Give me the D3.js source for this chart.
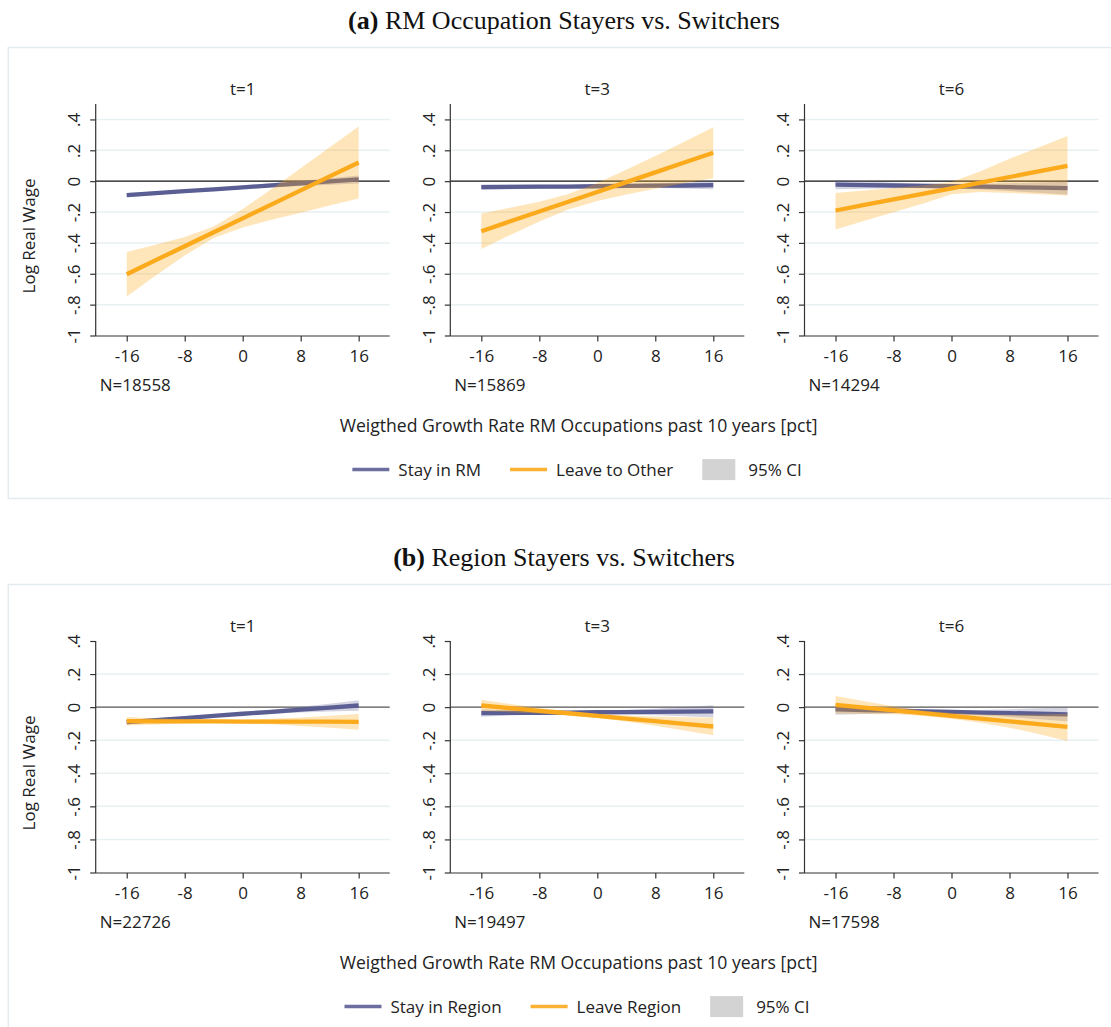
<!DOCTYPE html>
<html>
<head>
<meta charset="utf-8">
<script src="https://cdn.jsdelivr.net/npm/d3@7"></script>
<style>
  body { margin: 0; background: #fff; }
  svg { display: block; }
</style>
</head>
<body>
<div id="chart"></div>
<script>
var width = 1111
var height = 1027

// shared axes
var xGrid = [-16, -12, -8, -4, 0, 4, 8, 12, 16]
var xTicks = [-16, -8, 0, 8, 16]
var yTicks = [-1, -0.8, -0.6, -0.4, -0.2, 0, 0.2, 0.4]
var yTickLabels = ['-1', '-.8', '-.6', '-.4', '-.2', '0', '.2', '.4']
var panelTitles = ['t=1', 't=3', 't=6']

// (a) RM occupation stayers vs switchers
var nTop = [18558, 15869, 14294]
var legendTop = ['Stay in RM', 'Leave to Other', '95% CI']

var aStayFit1 = [-0.091, -0.078, -0.065, -0.053, -0.040, -0.027, -0.014, -0.002, 0.011]
var aStayLo1  = [-0.105, -0.089, -0.074, -0.062, -0.050, -0.040, -0.031, -0.023, -0.015]
var aStayHi1  = [-0.077, -0.067, -0.056, -0.044, -0.030, -0.014, 0.003, 0.019, 0.037]
var aLeaveFit1 = [-0.603, -0.512, -0.422, -0.331, -0.241, -0.150, -0.060, 0.031, 0.121]
var aLeaveLo1  = [-0.747, -0.612, -0.482, -0.369, -0.301, -0.250, -0.204, -0.158, -0.113]
var aLeaveHi1  = [-0.459, -0.412, -0.362, -0.293, -0.181, -0.050, 0.084, 0.220, 0.355]

var aStayFit3 = [-0.039, -0.037, -0.036, -0.035, -0.033, -0.031, -0.029, -0.028, -0.026]
var aStayLo3  = [-0.057, -0.052, -0.049, -0.047, -0.045, -0.044, -0.045, -0.048, -0.052]
var aStayHi3  = [-0.021, -0.022, -0.023, -0.023, -0.021, -0.018, -0.013, -0.008, 0.000]
var aLeaveFit3 = [-0.324, -0.260, -0.197, -0.133, -0.070, -0.006, 0.057, 0.121, 0.184]
var aLeaveLo3  = [-0.439, -0.348, -0.261, -0.183, -0.128, -0.086, -0.049, -0.014, 0.019]
var aLeaveHi3  = [-0.209, -0.172, -0.133, -0.083, -0.012, 0.074, 0.163, 0.256, 0.349]

var aStayFit6 = [-0.022, -0.025, -0.028, -0.030, -0.033, -0.036, -0.039, -0.042, -0.045]
var aStayLo6  = [-0.052, -0.049, -0.046, -0.045, -0.048, -0.054, -0.064, -0.075, -0.088]
var aStayHi6  = [0.008, -0.001, -0.010, -0.015, -0.018, -0.018, -0.014, -0.009, -0.002]
var aLeaveFit6 = [-0.190, -0.154, -0.118, -0.082, -0.046, -0.009, 0.027, 0.063, 0.099]
var aLeaveLo6  = [-0.313, -0.257, -0.202, -0.146, -0.085, -0.070, -0.076, -0.084, -0.093]
var aLeaveHi6  = [-0.076, -0.060, -0.044, -0.028, -0.005, 0.065, 0.145, 0.218, 0.292]

// (b) region stayers vs switchers
var nBottom = [22726, 19497, 17598]
var legendBottom = ['Stay in Region', 'Leave Region', '95% CI']

var bStayFit1 = [-0.091, -0.078, -0.066, -0.053, -0.040, -0.028, -0.015, -0.003, 0.010]
var bStayLo1  = [-0.105, -0.089, -0.075, -0.061, -0.049, -0.040, -0.032, -0.027, -0.022]
var bStayHi1  = [-0.077, -0.067, -0.057, -0.045, -0.031, -0.016, 0.002, 0.021, 0.042]
var bLeaveFit1 = [-0.085, -0.086, -0.086, -0.086, -0.087, -0.087, -0.088, -0.088, -0.089]
var bLeaveLo1  = [-0.111, -0.105, -0.099, -0.096, -0.098, -0.104, -0.114, -0.124, -0.136]
var bLeaveHi1  = [-0.059, -0.067, -0.073, -0.076, -0.076, -0.070, -0.062, -0.052, -0.042]

var bStayFit3 = [-0.036, -0.035, -0.034, -0.033, -0.031, -0.030, -0.029, -0.027, -0.026]
var bStayLo3  = [-0.058, -0.051, -0.045, -0.042, -0.041, -0.044, -0.049, -0.055, -0.063]
var bStayHi3  = [-0.014, -0.019, -0.023, -0.024, -0.021, -0.016, -0.009, 0.001, 0.011]
var bLeaveFit3 = [0.010, -0.006, -0.022, -0.037, -0.053, -0.069, -0.085, -0.101, -0.117]
var bLeaveLo3  = [-0.024, -0.031, -0.039, -0.049, -0.065, -0.087, -0.113, -0.141, -0.170]
var bLeaveHi3  = [0.044, 0.019, -0.005, -0.025, -0.041, -0.051, -0.057, -0.061, -0.064]

var bStayFit6 = [-0.014, -0.018, -0.021, -0.025, -0.029, -0.033, -0.036, -0.040, -0.044]
var bStayLo6  = [-0.046, -0.042, -0.037, -0.037, -0.041, -0.049, -0.060, -0.073, -0.086]
var bStayHi6  = [0.018, 0.006, -0.005, -0.013, -0.017, -0.017, -0.012, -0.007, -0.002]
var bLeaveFit6 = [0.014, -0.003, -0.019, -0.036, -0.053, -0.069, -0.086, -0.103, -0.119]
var bLeaveLo6  = [-0.039, -0.041, -0.043, -0.052, -0.070, -0.094, -0.124, -0.163, -0.204]
var bLeaveHi6  = [0.067, 0.035, 0.005, -0.020, -0.036, -0.044, -0.046, -0.045, -0.040]

var blue = '#5b5e93'
var orange = '#fbaa1c'
var font = '"Open Sans", "Noto Sans", sans-serif'
var fs = '17px'

var svg = d3.select('#chart').append('svg')
  .attr('width', width).attr('height', height)
  .style('font-family', font)

var panelLeft = [95.7, 450.3, 804.5]
var panelWidth = 294
var x = d3.scaleLinear().domain([-20.28, 20.28]).range([0, panelWidth])

var figures = [
  {
    dy: 0, label: '(a)', title: ' RM Occupation Stayers vs. Switchers',
    yDomain: [-1, 0.5], zero: '#111', n: nTop, legend: legendTop,
    panels: [
      [aStayFit1, aStayLo1, aStayHi1, aLeaveFit1, aLeaveLo1, aLeaveHi1],
      [aStayFit3, aStayLo3, aStayHi3, aLeaveFit3, aLeaveLo3, aLeaveHi3],
      [aStayFit6, aStayLo6, aStayHi6, aLeaveFit6, aLeaveLo6, aLeaveHi6]
    ]
  },
  {
    dy: 537, label: '(b)', title: ' Region Stayers vs. Switchers',
    yDomain: [-1, 0.4], zero: '#555', n: nBottom, legend: legendBottom,
    panels: [
      [bStayFit1, bStayLo1, bStayHi1, bLeaveFit1, bLeaveLo1, bLeaveHi1],
      [bStayFit3, bStayLo3, bStayHi3, bLeaveFit3, bLeaveLo3, bLeaveHi3],
      [bStayFit6, bStayLo6, bStayHi6, bLeaveFit6, bLeaveLo6, bLeaveHi6]
    ]
  }
]

var drawFigure = (fig) => {
  var g = svg.append('g').attr('transform', `translate(0, ${fig.dy})`)

  // light frame round the figure
  g.append('rect')
    .attr('x', 8.3).attr('y', 47.5)
    .attr('width', 1110).attr('height', 451)
    .attr('fill', 'none').attr('stroke', '#e3ebee').attr('stroke-width', 1.5)

  var title = g.append('text')
    .attr('x', 564).attr('y', 29)
    .attr('text-anchor', 'middle')
    .style('font-family', '"Liberation Serif", "Times New Roman", serif')
    .style('font-size', '26px')
    .style('fill', '#111')
  title.append('tspan').style('font-weight', 'bold').text(fig.label)
  title.append('tspan').text(fig.title)

  var y = d3.scaleLinear().domain(fig.yDomain).range([335.5, 104])

  var line = d3.line().x((d) => x(d[0])).y((d) => y(d[1]))
  var area = d3.area().x((d) => x(d[0])).y0((d) => y(d[1])).y1((d) => y(d[2]))

  fig.panels.forEach((p, i) => {
    var pg = g.append('g').attr('transform', `translate(${panelLeft[i]}, 0)`)

    // grid
    pg.selectAll('.grid')
      .data(yTicks.filter((t) => t > fig.yDomain[0] && t < fig.yDomain[1] && t !== 0))
      .enter().append('line')
      .attr('x1', 0).attr('x2', panelWidth)
      .attr('y1', (d) => y(d)).attr('y2', (d) => y(d))
      .attr('stroke', '#e8f0f2').attr('stroke-width', 1.5)

    pg.append('line')
      .attr('x1', 0).attr('x2', panelWidth)
      .attr('y1', y(0)).attr('y2', y(0))
      .attr('stroke', fig.zero).attr('stroke-width', 1.2)

    var stayBand = xGrid.map((v, k) => [v, p[1][k], p[2][k]])
    var leaveBand = xGrid.map((v, k) => [v, p[4][k], p[5][k]])

    pg.append('path').attr('d', area(stayBand))
      .attr('fill', blue).attr('fill-opacity', 0.27)
    pg.append('path').attr('d', line(xGrid.map((v, k) => [v, p[0][k]])))
      .attr('fill', 'none').attr('stroke', blue).attr('stroke-width', 4.3)
    pg.append('path').attr('d', area(leaveBand))
      .attr('fill', orange).attr('fill-opacity', 0.3)
    pg.append('path').attr('d', line(xGrid.map((v, k) => [v, p[3][k]])))
      .attr('fill', 'none').attr('stroke', orange).attr('stroke-width', 4.3)

    // axes
    var yAxis = pg.append('g')
      .call(d3.axisLeft(y).tickValues(yTicks).tickSize(5.5).tickFormat((d, k) => yTickLabels[k]))
    yAxis.select('.domain').attr('d', `M0,${y(fig.yDomain[1])}V${y(-1) + 0.5}`)
    yAxis.selectAll('line, path').attr('stroke', '#333').attr('stroke-width', 1.2)
    yAxis.selectAll('text')
      .attr('x', null).attr('dy', null).attr('y', 0)
      .attr('text-anchor', 'middle')
      .attr('transform', 'translate(-15.5, 0) rotate(-90)')
      .style('font-family', font).style('font-size', fs).style('fill', '#222')

    var xAxis = pg.append('g').attr('transform', `translate(0, ${y(-1) + 0.5})`)
      .call(d3.axisBottom(x).tickValues(xTicks).tickSize(5.5).tickFormat((d) => String(d)))
    xAxis.select('.domain').attr('d', `M0,0H${panelWidth}`)
    xAxis.selectAll('line, path').attr('stroke', '#333').attr('stroke-width', 1.2)
    xAxis.selectAll('text')
      .attr('y', 26).attr('dy', null)
      .style('font-family', font).style('font-size', fs).style('fill', '#222')

    pg.append('text')
      .attr('x', panelWidth / 2).attr('y', 95)
      .attr('text-anchor', 'middle')
      .style('font-size', fs).style('fill', '#222')
      .text(panelTitles[i])

    pg.append('text')
      .attr('x', 4).attr('y', 391)
      .style('font-size', fs).style('fill', '#222')
      .text('N=' + fig.n[i])
  })

  g.append('text')
    .attr('transform', 'translate(35, 236) rotate(-90)')
    .attr('text-anchor', 'middle')
    .style('font-size', fs).style('fill', '#222')
    .text('Log Real Wage')

  g.append('text')
    .attr('x', 578.6).attr('y', 432)
    .attr('text-anchor', 'middle')
    .style('font-size', '17.6px').style('fill', '#222')
    .text('Weigthed Growth Rate RM Occupations past 10 years [pct]')

  // legend
  var lg = g.append('g')
  var ly = 469.6
  var cursor = 0
  var swatchColors = [blue, orange, '#d3d3d3']
  fig.legend.forEach((label, k) => {
    if (k < 2) {
      lg.append('line')
        .attr('x1', cursor).attr('x2', cursor + 37)
        .attr('y1', ly).attr('y2', ly)
        .attr('stroke', swatchColors[k]).attr('stroke-width', 3.5)
        .attr('stroke-opacity', 0.9)
    } else {
      lg.append('rect')
        .attr('x', cursor).attr('y', ly - 10.5)
        .attr('width', 33).attr('height', 21)
        .attr('fill', swatchColors[k])
    }
    var t = lg.append('text')
      .attr('x', cursor + 46).attr('y', ly + 6)
      .style('font-size', fs).style('fill', '#222')
      .text(label)
    cursor += 46 + t.node().getComputedTextLength() + 29
  })
  var total = cursor - 29
  lg.attr('transform', `translate(${577 - total / 2}, 0)`)
}

figures.forEach(drawFigure)
</script>
</body>
</html>
